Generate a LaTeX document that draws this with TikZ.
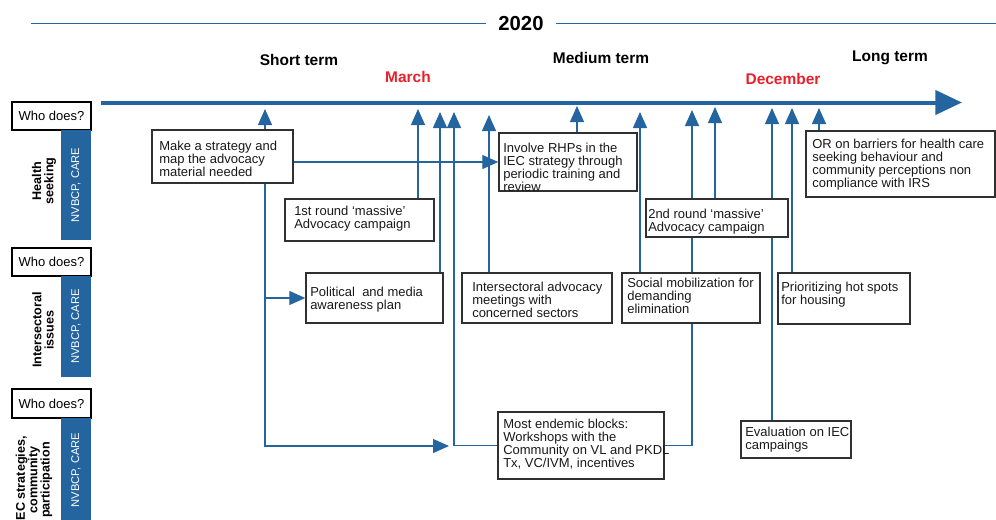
\documentclass[tikz,border=0pt]{standalone}
\usepackage{fontspec}
\setmainfont{Liberation Sans}
\usetikzlibrary{arrows.meta,fit}
\definecolor{nblue}{HTML}{2465A0}
\definecolor{nred}{HTML}{E8202A}
\definecolor{boxline}{HTML}{303030}
\pgfdeclarelayer{bg}
\pgfsetlayers{bg,main}
\begin{document}
\begin{tikzpicture}[x=0.75pt,y=-0.75pt,
  tbox/.style={draw=boxline, line width=1.1pt, fill=white, inner sep=0pt},
  txt/.style={anchor=north west, inner sep=0pt, align=left, text=black!90, font=\fontsize{9.75}{9.75}\selectfont},
  whobox/.style={draw=black, line width=1.1pt, fill=white, inner sep=0pt},
  whotxt/.style={inner sep=0pt, font=\fontsize{9.75}{9.75}\selectfont},
  bluebox/.style={fill=nblue, draw=none, inner sep=0pt},
  bluetxt/.style={text=white, rotate=90, inner sep=0pt, font=\fontsize{8.4}{9}\selectfont},
  sidelbl/.style={rotate=90, align=center, inner sep=0pt, font=\fontsize{9.45}{9.2}\selectfont\bfseries},
  termlbl/.style={anchor=base, inner sep=0pt, font=\fontsize{11.6}{13}\selectfont\bfseries},
  conn/.style={draw=nblue, line width=1pt},
  tip/.style={-{Triangle[length=12pt,width=10.5pt]}, nblue},
]
\useasboundingbox (0,0) rectangle (996,519);

% ---- header ----
\node[inner xsep=9pt, inner ysep=0pt, font=\fontsize{15.2}{18}\selectfont\bfseries] (yr) at (521,23.5) {2020};
\coordinate (tl0) at (31,23.5);
\coordinate (tl1) at (996,23.5);
\draw[nblue, line width=0.9pt] (tl0) -- (yr.west);
\draw[nblue, line width=0.9pt] (yr.east) -- (tl1);

\node[termlbl] (st) at (299,65) {Short term};
\node[termlbl, text=nred] (mar) at (408,82) {March};
\node[termlbl] (mt) at (601,63) {Medium term};
\node[termlbl, text=nred] (dec) at (783,84) {December};
\node[termlbl] (lt) at (890,61) {Long term};

% ---- main time line ----
\coordinate (ml0) at (101,102.5);
\coordinate (ml1) at (962,102.5);
\draw[nblue, line width=3pt, -{Triangle[length=20pt,width=18pt]}] (ml0) -- (ml1);

% ---- left column ----
\node[whobox, fit={(12,102) (91,130)}] (w1) {};
\node[whotxt] (w1t) at (w1.center) {Who does?};
\node[bluebox, fit={(61,130) (91,240)}] (b1) {};
\node[bluetxt] (b1t) at (b1) {NVBCP, CARE};
\node[sidelbl] (s1) at (44,181) {Health\\seeking};

\node[whobox, fit={(12,248) (91,276)}] (w2) {};
\node[whotxt] (w2t) at (w2.center) {Who does?};
\node[bluebox, fit={(61,276) (91,377)}] (b2) {};
\node[bluetxt] (b2t) at (b2) {NVBCP, CARE};
\node[sidelbl] (s2) at (43,330) {Intersectoral\\issues};

\node[whobox, fit={(12,389) (91,418)}] (w3) {};
\node[whotxt] (w3t) at (w3.center) {Who does?};
\node[bluebox, fit={(61,418) (91,530)}] (b3) {};
\node[bluetxt] (b3t) at (76,470) {NVBCP, CARE};
\node[sidelbl] (s3) at (34,480) {IEC strategies,\\community\\participation};

% ---- activity boxes ----
\node[tbox, fit={(152,130) (293,183)}] (mk) {};
\node[txt] (mkT) at (159,141) {Make a strategy and\\map the advocacy\\material needed};

\node[tbox, fit={(285,199) (434,241)}] (r1) {};
\node[txt] (r1T) at (294,206) {1st round ‘massive’\\Advocacy campaign};

\node[tbox, fit={(306,273) (443,323)}] (pol) {};
\node[txt] (polT) at (310,287) {Political\ \ and media\\awareness plan};

\node[tbox, fit={(499,133) (637,191)}] (inv) {};
\node[txt] (invT) at (503,143) {Involve RHPs in the\\IEC strategy through\\periodic training and\\review};

\node[tbox, fit={(462,273) (612,323)}] (isa) {};
\node[txt] (isaT) at (472,282) {Intersectoral advocacy\\meetings with\\concerned sectors};

\node[tbox, fit={(622,273) (760,323)}] (soc) {};
\node[txt] (socT) at (627,278) {Social mobilization for\\demanding\\elimination};

\node[tbox, fit={(646,199) (788,237)}] (r2) {};
\node[txt] (r2T) at (648,209) {2nd round ‘massive’\\Advocacy campaign};

\node[tbox, fit={(806,131) (995,197)}] (orb) {};
\node[txt] (orbT) at (812,139) {OR on barriers for health care\\seeking behaviour and\\community perceptions non\\compliance with IRS};

\node[tbox, fit={(778,273) (910,324)}] (pri) {};
\node[txt] (priT) at (781,282) {Prioritizing hot spots\\for housing};

\node[tbox, fit={(498,412) (664,479)}] (ws) {};
\node[txt] (wsT) at (503,419) {Most endemic blocks:\\Workshops with the\\Community on VL and PKDL\\Tx, VC/IVM, incentives};

\node[tbox, fit={(741,421) (851,458)}] (ev) {};
\node[txt] (evT) at (745,427) {Evaluation on IEC\\campaings};

% ---- arrow ends under the time line ----
\coordinate (a1) at (265,109);
\coordinate (a2) at (418,109);
\coordinate (a3) at (440,112);
\coordinate (a4) at (454,112);
\coordinate (a5) at (489,115);
\coordinate (a6) at (577,106);
\coordinate (a7) at (640,112);
\coordinate (a8) at (692,110);
\coordinate (a9) at (715,107);
\coordinate (a10) at (772,108);
\coordinate (a11) at (792,108);
\coordinate (a12) at (819,108);
\coordinate (wsl) at (449,446);

\begin{pgfonlayer}{bg}
\draw[conn,tip] (mk.north -| a1) -- (a1);
\draw[conn,tip] (mk.east |- inv.west) -- (inv.west);
\draw[conn,tip] (mk.south -| a1) -- (a1 |- wsl) -- (wsl);
\draw[conn,tip] (a1 |- pol.west) -- (pol.west);
\draw[conn,tip] (r1.north -| a2) -- (a2);
\draw[conn,tip] (pol.north -| a3) -- (a3);
\draw[conn,tip] (ws.west) -- (a4 |- ws.west) -- (a4);
\draw[conn,tip] (isa.north -| a5) -- (a5);
\draw[conn,tip] (inv.north -| a6) -- (a6);
\draw[conn,tip] (soc.north -| a7) -- (a7);
\draw[conn,tip] (ws.east) -- (a8 |- ws.east) -- (a8);
\draw[conn,tip] (r2.north -| a9) -- (a9);
\draw[conn,tip] (ev.north -| a10) -- (a10);
\draw[conn,tip] (pri.north -| a11) -- (a11);
\draw[conn,tip] (orb.north -| a12) -- (a12);
\end{pgfonlayer}
\end{tikzpicture}
\end{document}
